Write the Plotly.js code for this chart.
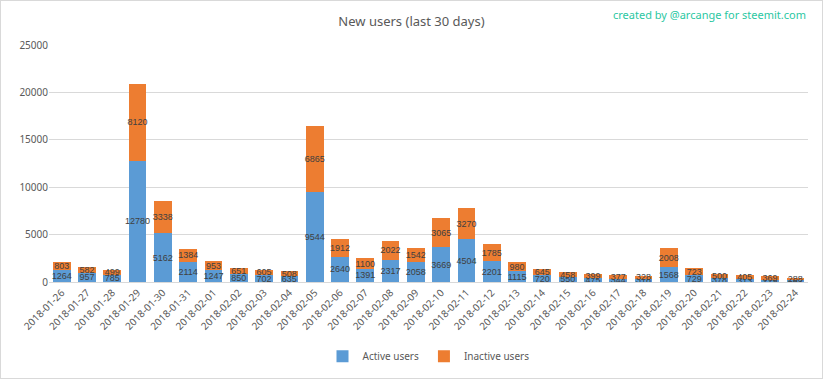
<!DOCTYPE html>
<html><head><meta charset="utf-8">
<script src="https://cdn.plot.ly/plotly-3.0.1.min.js"></script>
<style>html,body{margin:0;padding:0;background:#fff}#c{width:821px;height:377px;border:1px solid #d9d9d9}</style>
</head><body><div id="c"></div>
<script>
const dates = ["2018-01-26","2018-01-27","2018-01-28","2018-01-29","2018-01-30","2018-01-31","2018-02-01","2018-02-02","2018-02-03","2018-02-04","2018-02-05","2018-02-06","2018-02-07","2018-02-08","2018-02-09","2018-02-10","2018-02-11","2018-02-12","2018-02-13","2018-02-14","2018-02-15","2018-02-16","2018-02-17","2018-02-18","2018-02-19","2018-02-20","2018-02-21","2018-02-22","2018-02-23","2018-02-24"];
const activeUsers = [1264,957,785,12780,5162,2114,1247,850,702,635,9544,2640,1391,2317,2058,3669,4504,2201,1115,720,550,475,344,318,1568,729,378,313,229,182];
const inactiveUsers = [803,582,499,8120,3338,1384,953,651,605,508,6865,1912,1100,2022,1542,3065,3270,1785,980,645,458,399,377,328,2008,723,500,405,369,288];
const yTicks = [0,5000,10000,15000,20000,25000];

const common = {type:'bar', textposition:'inside', insidetextanchor:'middle', constraintext:'none', textangle:0,
  textfont:{family:'Liberation Sans, Arial', size:9, color:'#404040'}, hoverinfo:'x+y+name'};
const data = [
  Object.assign({}, common, {x:dates, y:activeUsers, name:'Active users', text:activeUsers.map(String), marker:{color:'#5B9BD5'}}),
  Object.assign({}, common, {x:dates, y:inactiveUsers, name:'Inactive users', text:inactiveUsers.map(String), marker:{color:'#ED7D31'}})
];
const layout = {
  width:821, height:377, barmode:'stack', bargap:0.3,
  margin:{l:48, r:14, t:44, b:96},
  paper_bgcolor:'#fff', plot_bgcolor:'#fff',
  font:{family:'Noto Sans, Liberation Sans, Arial', color:'#595959', size:10},
  title:{text:'New users (last 30 days)', x:0.5, xanchor:'center', y:0.945, yanchor:'middle', yref:'container', font:{size:13, color:'#595959'}},
  xaxis:{type:'category', tickangle:-45, tickfont:{size:10, color:'#595959'}, showline:true, linecolor:'#d9d9d9', ticks:'', showgrid:false, automargin:false},
  yaxis:{range:[0,25000], tickvals:yTicks, ticktext:yTicks.map(String), showgrid:true, gridcolor:'#d9d9d9', zeroline:false, tickfont:{size:10, color:'#595959'}, ticks:'', ticklen:0, automargin:false},
  showlegend:true,
  legend:{orientation:'h', traceorder:'normal', x:0.5, xanchor:'center', yref:'container', y:0.058, yanchor:'middle', font:{size:10, color:'#595959'}, itemwidth:30},
  annotations:[{text:'created by @arcange for steemit.com', xref:'paper', yref:'paper', x:1.0, xanchor:'right', y:1.127, yanchor:'middle', showarrow:false, font:{size:11, color:'#2BC7A2'}}]
};
Plotly.newPlot('c', data, layout, {displayModeBar:false, staticPlot:true});
</script></body></html>
